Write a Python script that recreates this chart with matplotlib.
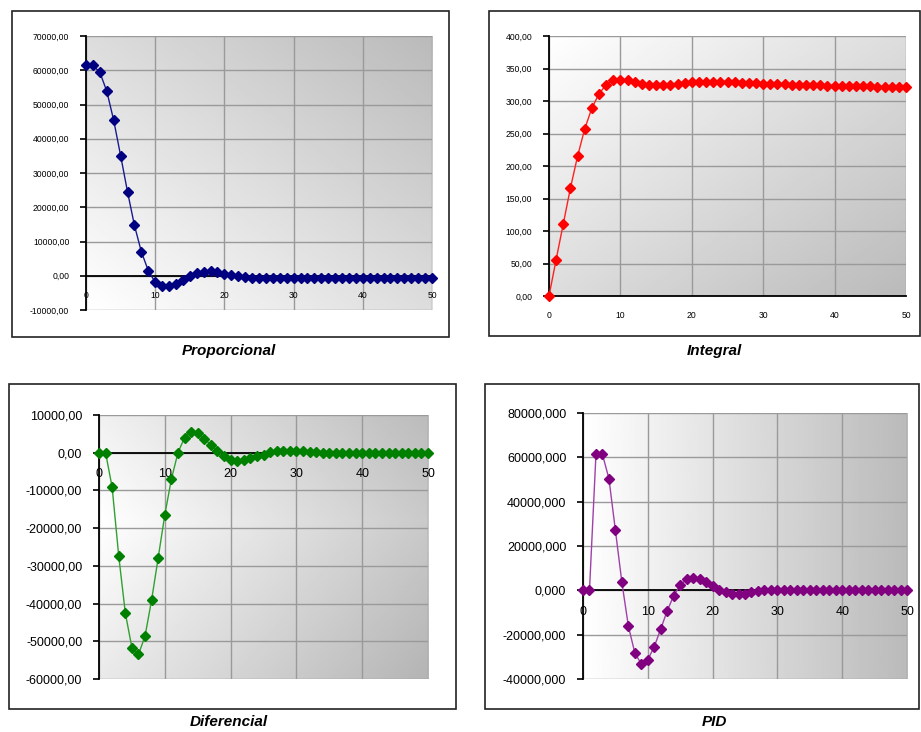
import numpy as np
import matplotlib
matplotlib.use("Agg")
import matplotlib.pyplot as plt
from matplotlib.patches import Rectangle
from matplotlib.ticker import FuncFormatter, MultipleLocator

plt.rcParams['font.family'] = ['Liberation Sans', 'DejaVu Sans']

steps = list(range(51))

proporcional = [61400, 61400, 59400, 53900, 45400, 35100, 24500, 14700, 7000, 1500,
                -1900, -3100, -3100, -2300, -1200, -100, 800, 1200, 1300, 1000,
                600, 100, -200, -500, -600, -600, -600, -600, -600, -600,
                -600, -600, -600, -600, -600, -600, -600, -600, -600, -600,
                -600, -600, -600, -600, -600, -600, -600, -600, -600, -600, -600]

integral = [0, 56, 111, 166, 215, 257, 289, 311, 325, 332,
            333, 332, 329, 326.5, 324.5, 324, 324, 324.5, 326, 327.5,
            328.5, 329, 329.5, 329.5, 329.5, 329, 328.5, 328, 327.5, 327,
            326.5, 326, 325.8, 325.5, 325.2, 325, 324.7, 324.4, 324.1, 323.8,
            323.5, 323.3, 323.1, 322.9, 322.7, 322.5, 322.2, 322, 321.8, 321.6, 321.4]

diferencial = [0, 0, -9200, -27400, -42500, -51700, -53500, -48600, -39000, -27800,
               -16500, -7000, 0, 4000, 5600, 5200, 3700, 2100, 350, -1000,
               -1850, -2200, -2000, -1500, -1000, -500, 100, 350, 450, 550,
               450, 350, 100, 150, 0, 0, 0, 0, 0, 0,
               0, 0, 0, 0, 0, 0, 0, 0, 0, 0, 0]

pid = [0, 0, 61350, 61350, 50400, 27100, 3600, -16100, -28300, -33200,
       -31300, -25400, -17400, -9200, -2400, 2400, 5000, 5700, 5000, 3600,
       1800, 300, -900, -1600, -1600, -1500, -800, -400, 0, 150,
       300, 300, 300, 250, 200, 100, 0, 0, 0, 0,
       0, 0, 0, 0, 0, 0, 0, 0, 0, 0, 0]

W, H = 921, 732
fig = plt.figure(figsize=(W / 100, H / 100), dpi=100)


def px_axes(x0, y0, x1, y1):
    return fig.add_axes([x0 / W, 1 - y1 / H, (x1 - x0) / W, (y1 - y0) / H])


def frame(x0, y0, x1, y1):
    fig.add_artist(Rectangle((x0 / W, 1 - y1 / H), (x1 - x0) / W, (y1 - y0) / H,
                             transform=fig.transFigure, fill=False,
                             edgecolor='#222222', linewidth=1.2))


def gradient(ax, kind):
    n = 200
    gx, gy = np.meshgrid(np.linspace(0, 1, n), np.linspace(1, 0, n))
    if kind == 'bl':
        v = 1 - 0.27 * (gx + gy) / 2
    elif kind == 'tl':
        v = 1 - 0.27 * (gx + (1 - gy)) / 2
    elif kind == 'l':
        v = 1 - 0.28 * (0.75 * gx + 0.25 * np.abs(gy - 0.6) * 2)
    else:
        v = 1 - 0.27 * gx
    ax.imshow(v, extent=[0, 1, 0, 1], transform=ax.transAxes, aspect='auto',
              cmap='gray', vmin=0, vmax=1, zorder=0, interpolation='bilinear')


def panel(ax, y, color, line_color, ymin, ymax, ystep, decimals, fsize, grad):
    gradient(ax, grad)
    ax.plot(steps, y, color=line_color, linewidth=1.0, zorder=5, clip_on=False)
    ax.plot(steps, y, color=color, marker='D', markersize=4.6, linestyle='none',
            zorder=6, clip_on=False)
    ax.set_xlim(0, 50)
    ax.set_ylim(ymin, ymax)
    ax.xaxis.set_major_locator(MultipleLocator(10))
    ax.yaxis.set_major_locator(MultipleLocator(ystep))
    ax.yaxis.set_major_formatter(FuncFormatter(
        lambda v, p: f"{v:.{decimals}f}".replace('.', ',')))
    ax.grid(True, color='#9a9a9a', linewidth=1.0, zorder=1)
    ax.set_axisbelow(True)
    for s in ['top', 'right']:
        ax.spines[s].set_visible(False)
    ax.spines['left'].set_linewidth(1.3)
    ax.spines['bottom'].set_position(('data', 0))
    ax.spines['bottom'].set_linewidth(1.3)
    ax.spines['left'].set_zorder(4)
    ax.spines['bottom'].set_zorder(4)
    ax.tick_params(axis='y', length=4, width=1.2, pad=8, labelsize=fsize)
    ax.tick_params(axis='x', length=0, pad=11, labelsize=fsize)


ax1 = px_axes(86, 36, 432, 310)
panel(ax1, proporcional, '#000080', '#1a1a90', -10000, 70000, 10000, 2, 6.2, 'bl')
ax2 = px_axes(549, 36, 906, 296)
panel(ax2, integral, '#ff0000', '#ff2020', 0, 400, 50, 2, 6.2, 'tl')
ax3 = px_axes(99, 415, 428, 679)
panel(ax3, diferencial, '#008000', '#30a030', -60000, 10000, 10000, 2, 9, 'l')
ax4 = px_axes(583, 413, 907, 679)
panel(ax4, pid, '#800080', '#a040a8', -40000, 80000, 20000, 3, 9, 'h')

frame(12, 11, 449, 337)
frame(489, 11, 920, 336)
frame(9, 384, 456, 709)
frame(485, 384, 919, 709)

title_kw = dict(ha='center', va='center', fontsize=11, fontweight='bold', fontstyle='italic')
fig.text(229 / W, 1 - 351 / H, 'Proporcional', **title_kw)
fig.text(714 / W, 1 - 351 / H, 'Integral', **title_kw)
fig.text(229 / W, 1 - 722 / H, 'Diferencial', **title_kw)
fig.text(714 / W, 1 - 722 / H, 'PID', **title_kw)

fig.savefig('out.png', dpi=100)
